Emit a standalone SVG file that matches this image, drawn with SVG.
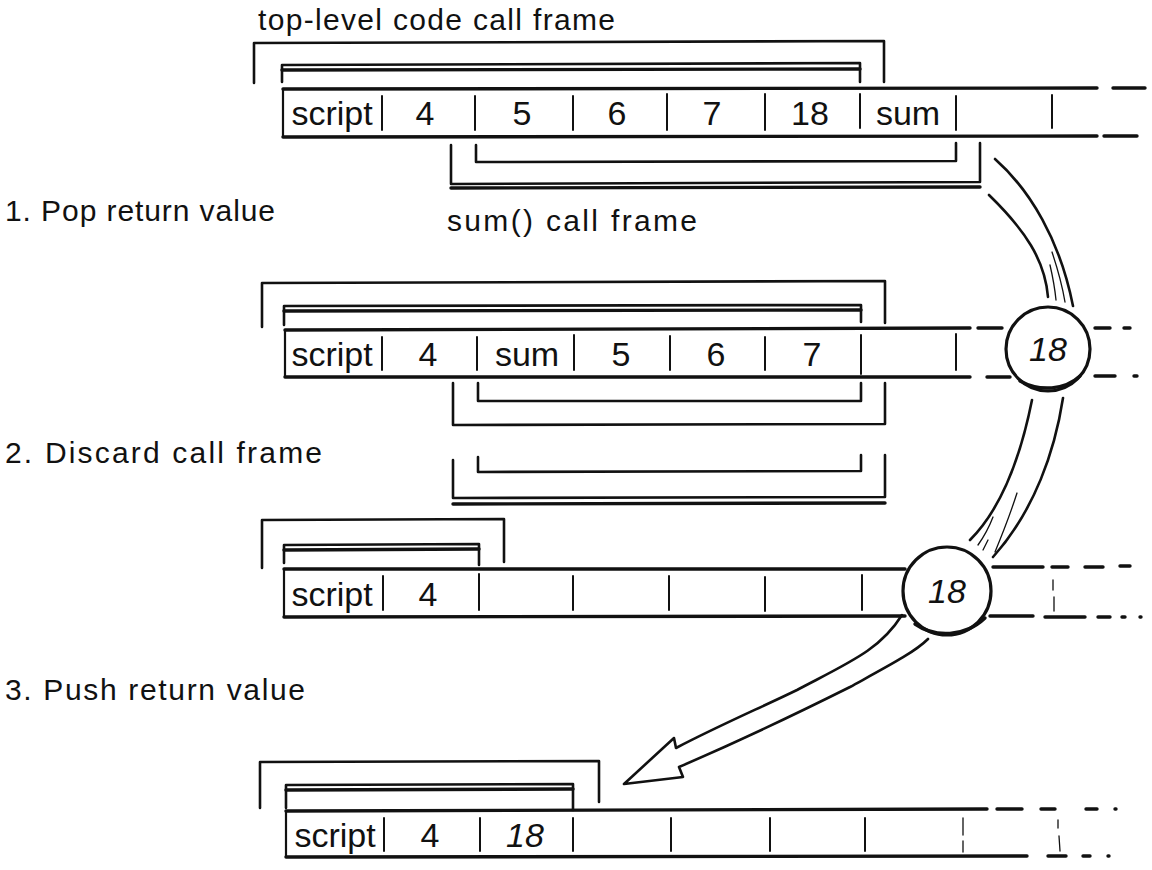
<svg xmlns="http://www.w3.org/2000/svg" width="1152" height="870" viewBox="0 0 1152 870">
<style>
.bg{fill:#fff}
.ln{stroke:#111;fill:none;stroke-linecap:round;stroke-linejoin:round}
.h{stroke-width:3.4}
.v{stroke-width:2.2}
.dv{stroke-width:2}
.br{stroke-width:2.6}
.thin{stroke-width:1.3}
.cell{font-family:"Liberation Sans",Arial,sans-serif;font-size:34px;fill:#111;text-anchor:middle}
.lbl{font-family:"Liberation Sans",Arial,sans-serif;font-size:30px;fill:#111}
.circ{fill:#fff;stroke:#111;stroke-width:3.2}
</style>
<rect class="bg" x="0" y="0" width="1152" height="870"/>

<!-- labels -->
<g id="labels">
<text class="lbl" x="258" y="30" textLength="357" lengthAdjust="spacing">top-level code call frame</text>
<text class="lbl" x="447" y="231" textLength="250" lengthAdjust="spacing">sum() call frame</text>
<text class="lbl" x="5" y="221" textLength="270" lengthAdjust="spacing">1. Pop return value</text>
<text class="lbl" x="5" y="463" textLength="317" lengthAdjust="spacing">2. Discard call frame</text>
<text class="lbl" x="5" y="700" textLength="300" lengthAdjust="spacing">3. Push return value</text>
</g>

<!-- stack 1 -->
<g id="stack1">
<path class="ln h" d="M283 89 L1097 88 M1113 88 L1145 88"/>
<path class="ln h" d="M283 137 L1097 136 M1104 136 L1137 136"/>
<path class="ln v" d="M283 89 L283 137"/>
<path class="ln dv" d="M382 96 L382 130 M475 96 L475 130 M573 96 L573 130 M667 94 L667 130 M765 94 L765 130 M860 94 L860 128 M956 96 L956 130 M1052 95 L1052 128"/>
<text class="cell" x="332" y="125">script</text>
<text class="cell" x="425" y="125">4</text>
<text class="cell" x="522" y="125">5</text>
<text class="cell" x="617" y="125">6</text>
<text class="cell" x="712" y="125">7</text>
<text class="cell" x="810" y="125">18</text>
<text class="cell" x="908" y="125">sum</text>
</g>
<g id="frame1-top">
<path class="ln br" d="M254 83 L254 43 L884 41 L884 82"/>
<path class="ln br" d="M282 82 L282 65 L860 63 L860 82"/>
<path class="ln h" d="M282 70 L860 69"/>
</g>
<g id="frame1-sum">
<path class="ln br" d="M476 145 L476 162 L956 161 L956 143"/>
<path class="ln br" d="M451 145 L451 184 L980 182 L980 143"/>
<path class="ln h" d="M451 188 L980 187"/>
</g>

<!-- stack 2 -->
<g id="stack2">
<path class="ln h" d="M285 330 L970 328 M978 328 L1002 328 M1095 328 L1110 328 M1124 328 L1130 328"/>
<path class="ln h" d="M285 377 L970 377 M987 377 L1010 377 M1095 376 L1115 376 M1134 376 L1137 376"/>
<path class="ln v" d="M285 330 L285 377"/>
<path class="ln dv" d="M382 337 L382 370 M477 337 L477 370 M574 335 L574 370 M670 336 L670 370 M765 337 L765 370 M861 335 L861 374 M956 334 L956 370"/>
<text class="cell" x="332" y="366">script</text>
<text class="cell" x="428" y="366">4</text>
<text class="cell" x="527" y="366">sum</text>
<text class="cell" x="621" y="366">5</text>
<text class="cell" x="716" y="366">6</text>
<text class="cell" x="812" y="366">7</text>
</g>
<g id="frame2-top">
<path class="ln br" d="M262 327 L262 283 L885 281 L885 323"/>
<path class="ln br" d="M284 325 L284 306 L861 305 L861 322"/>
<path class="ln h" d="M284 311 L861 310"/>
</g>
<g id="frame2-sum">
<path class="ln br" d="M478 383 L478 401 L861 401 L861 383"/>
<path class="ln br" d="M453 383 L453 425 L885 424 L885 383"/>
</g>
<g id="frame2-discard">
<path class="ln br" d="M478 457 L478 472 L861 471 L861 455"/>
<path class="ln br" d="M453 460 L453 498 L885 497 L885 455"/>
<path class="ln h" d="M453 504 L885 503"/>
</g>

<!-- stack 3 -->
<g id="stack3">
<path class="ln h" d="M284 569 L905 569 M993 567 L1043 567 M1052 567 L1068 567 M1085 567 L1103 567 M1120 566 L1130 566"/>
<path class="ln h" d="M284 617 L905 616 M990 616 L1033 616 M1045 617 L1085 617 M1098 617 L1110 617 M1122 617 L1125 617 M1140 617 L1141 617"/>
<path class="ln v" d="M284 569 L284 617"/>
<path class="ln dv" d="M383 576 L383 610 M479 574 L479 610 M573 576 L573 610 M669 576 L669 610 M765 577 L765 611 M862 575 L862 610"/>
<path class="ln thin" d="M1053 580 L1053 590 M1054 597 L1054 611"/>
<text class="cell" x="332" y="606">script</text>
<text class="cell" x="428" y="606">4</text>
</g>
<g id="frame3-top">
<path class="ln br" d="M262 568 L262 520 L504 519 L504 562"/>
<path class="ln br" d="M284 563 L284 545 L479 544 L479 565"/>
<path class="ln h" d="M284 550 L479 549"/>
</g>

<!-- stack 4 -->
<g id="stack4">
<path class="ln h" d="M286 811 L987 809 M997 809 L1022 809 M1041 809 L1055 809 M1086 809 L1097 809 M1115 809 L1116 809"/>
<path class="ln h" d="M286 857 L1027 856 M1048 856 L1066 856 M1083 856 L1090 856 M1108 856 L1109 856"/>
<path class="ln v" d="M286 811 L286 857"/>
<path class="ln dv" d="M384 818 L384 851 M480 818 L480 851 M573 818 L573 851 M671 818 L671 851 M770 818 L770 851 M865 818 L865 851"/>
<path class="ln thin" d="M963 818 L963 835 M963 841 L963 852 M1058 820 L1058 828 M1059 836 L1060 851"/>
<text class="cell" x="335" y="847">script</text>
<text class="cell" x="430" y="847">4</text>
<text class="cell" x="525" y="847" font-style="italic">18</text>
</g>
<g id="frame4-top">
<path class="ln br" d="M260 808 L260 762 L599 761 L599 802"/>
<path class="ln br" d="M286 808 L286 785 L573 784 L573 810"/>
<path class="ln h" d="M286 790 L573 789"/>
</g>

<!-- connectors -->
<g id="connectors">
<path class="ln br" d="M995 159 C1030 190 1060 240 1073 306"/>
<path class="ln br" d="M989 195 C1025 230 1045 260 1048 297"/>
<path class="ln thin" d="M1052 252 C1058 270 1063 290 1065 302 M1050 265 C1053 278 1055 290 1056 300"/>
<path class="ln br" d="M1063 398 C1055 450 1035 510 993 557"/>
<path class="ln br" d="M1032 400 C1022 450 1005 505 970 540"/>
<path class="ln thin" d="M993 517 C988 530 983 538 978 545 M988 540 L983 550 M1017 493 C1010 515 1002 535 995 552"/>
<path class="ln br" d="M902 615 C880 650 850 662 797 690 C760 708 720 725 676 748 L674 738 L624 784 L683 777 L679 767 C730 745 780 722 850 687 C890 665 915 652 928 639"/>
</g>

<!-- circles -->
<g id="circle2">
<circle class="circ" cx="1048" cy="349" r="42"/>
<path class="ln h" d="M1020 381 C1040 392 1065 390 1080 376"/>
<text class="cell" x="1048" y="361" font-style="italic">18</text>
</g>
<g id="circle3">
<circle class="circ" cx="947" cy="591" r="44"/>
<path class="ln h" d="M915 624 C935 638 965 637 985 618"/>
<text class="cell" x="947" y="603" font-style="italic">18</text>
</g>
</svg>
